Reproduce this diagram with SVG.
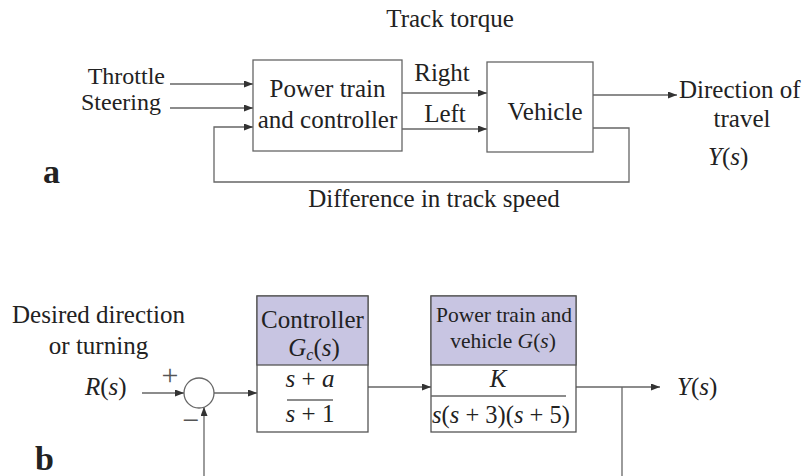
<svg xmlns="http://www.w3.org/2000/svg" width="808" height="476" viewBox="0 0 808 476">
<defs>
<style>
.t{font-family:"Liberation Serif","Times New Roman",serif;fill:#222;font-size:25px}
.i{font-style:italic}
.bold{font-weight:bold;font-size:34px}
.ln{fill:none;stroke:#666;stroke-width:1.3}
.box{fill:#fff;stroke:#666;stroke-width:1.3}
.pbox{fill:#fff;stroke:#555;stroke-width:1.3}
.head{fill:#c8c5e2;stroke:#555;stroke-width:1.3}
</style>
<marker id="ah" markerWidth="10" markerHeight="8" refX="9" refY="3.5" orient="auto" markerUnits="userSpaceOnUse">
<path d="M0,0 L9,3.5 L0,7 z" fill="#333"/>
</marker>
</defs>
<rect width="808" height="476" fill="#fff"/>

<g id="connectors">
<path class="ln" d="M170,84 H253" marker-end="url(#ah)"/>
<path class="ln" d="M170,108 H253" marker-end="url(#ah)"/>
<path class="ln" d="M593,128 H629 V182 H214 V127 H253" marker-end="url(#ah)"/>
<path class="ln" d="M402,93 H487" marker-end="url(#ah)"/>
<path class="ln" d="M402,129 H487" marker-end="url(#ah)"/>
<path class="ln" d="M593,95 H677" marker-end="url(#ah)"/>
<path class="ln" d="M142,393 H184" marker-end="url(#ah)"/>
<path class="ln" d="M204,476 V407" marker-end="url(#ah)"/>
<path class="ln" d="M214,393 H257" marker-end="url(#ah)"/>
<path class="ln" d="M368,387 H431" marker-end="url(#ah)"/>
<path class="ln" d="M576,387 H660" marker-end="url(#ah)"/>
<path class="ln" d="M622,387 V476"/>
</g>

<g id="labels-a">
<text class="t" x="450" y="27" text-anchor="middle">Track torque</text>
<text class="t" x="165" y="84" text-anchor="end" style="font-size:24px">Throttle</text>
<text class="t" x="161" y="110" text-anchor="end" style="font-size:24px">Steering</text>
<text class="t" x="442" y="81" text-anchor="middle">Right</text>
<text class="t" x="445" y="122" text-anchor="middle">Left</text>
<text class="t" x="679" y="98">Direction of</text>
<text class="t" x="742" y="127" text-anchor="middle">travel</text>
<text class="t" x="708" y="165"><tspan class="i">Y</tspan>(<tspan class="i">s</tspan>)</text>
<text class="t" x="434" y="207" text-anchor="middle">Difference in track speed</text>
<text class="t bold" x="43" y="183">a</text>
</g>

<g id="node-powertrain">
<rect class="box" x="253" y="60" width="149" height="91"/>
<text class="t" x="327.5" y="97" text-anchor="middle">Power train</text>
<text class="t" x="327.5" y="128" text-anchor="middle">and controller</text>
</g>

<g id="node-vehicle">
<rect class="box" x="487" y="62" width="106" height="90"/>
<text class="t" x="545" y="120" text-anchor="middle">Vehicle</text>
</g>

<g id="labels-b">
<text class="t" x="98.5" y="323" text-anchor="middle">Desired direction</text>
<text class="t" x="98.5" y="354" text-anchor="middle">or turning</text>
<text class="t" x="85" y="395"><tspan class="i">R</tspan>(<tspan class="i">s</tspan>)</text>
<text class="t" x="677" y="395"><tspan class="i">Y</tspan>(<tspan class="i">s</tspan>)</text>
<text class="t bold" x="35" y="470">b</text>
</g>

<g id="node-sum">
<circle cx="199" cy="393" r="15" fill="#fff" stroke="#666" stroke-width="1.3"/>
<text class="t" x="170" y="385" text-anchor="middle" style="font-size:30px;fill:#555">+</text>
<text class="t" x="191" y="430" text-anchor="middle" style="font-size:30px;fill:#555">−</text>
</g>

<g id="node-controller">
<rect class="pbox" x="257" y="296" width="111" height="136"/>
<rect class="head" x="257" y="296" width="111" height="69"/>
<text class="t" x="312.5" y="328" text-anchor="middle">Controller</text>
<text class="t" x="314" y="356" text-anchor="middle"><tspan class="i">G</tspan><tspan class="i" style="font-size:16px" dy="4">c</tspan><tspan dy="-4">(</tspan><tspan class="i">s</tspan>)</text>
<text class="t" x="310" y="387" text-anchor="middle"><tspan class="i">s</tspan> + <tspan class="i">a</tspan></text>
<path d="M287,400 H333" stroke="#666" stroke-width="1.3"/>
<text class="t" x="310" y="422" text-anchor="middle"><tspan class="i">s</tspan> + 1</text>
</g>

<g id="node-plant">
<rect class="pbox" x="431" y="296" width="145" height="136"/>
<rect class="head" x="431" y="296" width="145" height="69"/>
<text class="t" x="504" y="322" text-anchor="middle" style="font-size:21.5px">Power train and</text>
<text class="t" x="503" y="348" text-anchor="middle" style="font-size:21.5px">vehicle <tspan class="i">G</tspan>(<tspan class="i">s</tspan>)</text>
<text class="t i" x="498" y="387" text-anchor="middle">K</text>
<path d="M431,396 H566" stroke="#666" stroke-width="1.3"/>
<text class="t" x="432" y="423" style="font-size:24.5px"><tspan class="i">s</tspan>(<tspan class="i">s</tspan> + 3)(<tspan class="i">s</tspan> + 5)</text>
</g>
</svg>
